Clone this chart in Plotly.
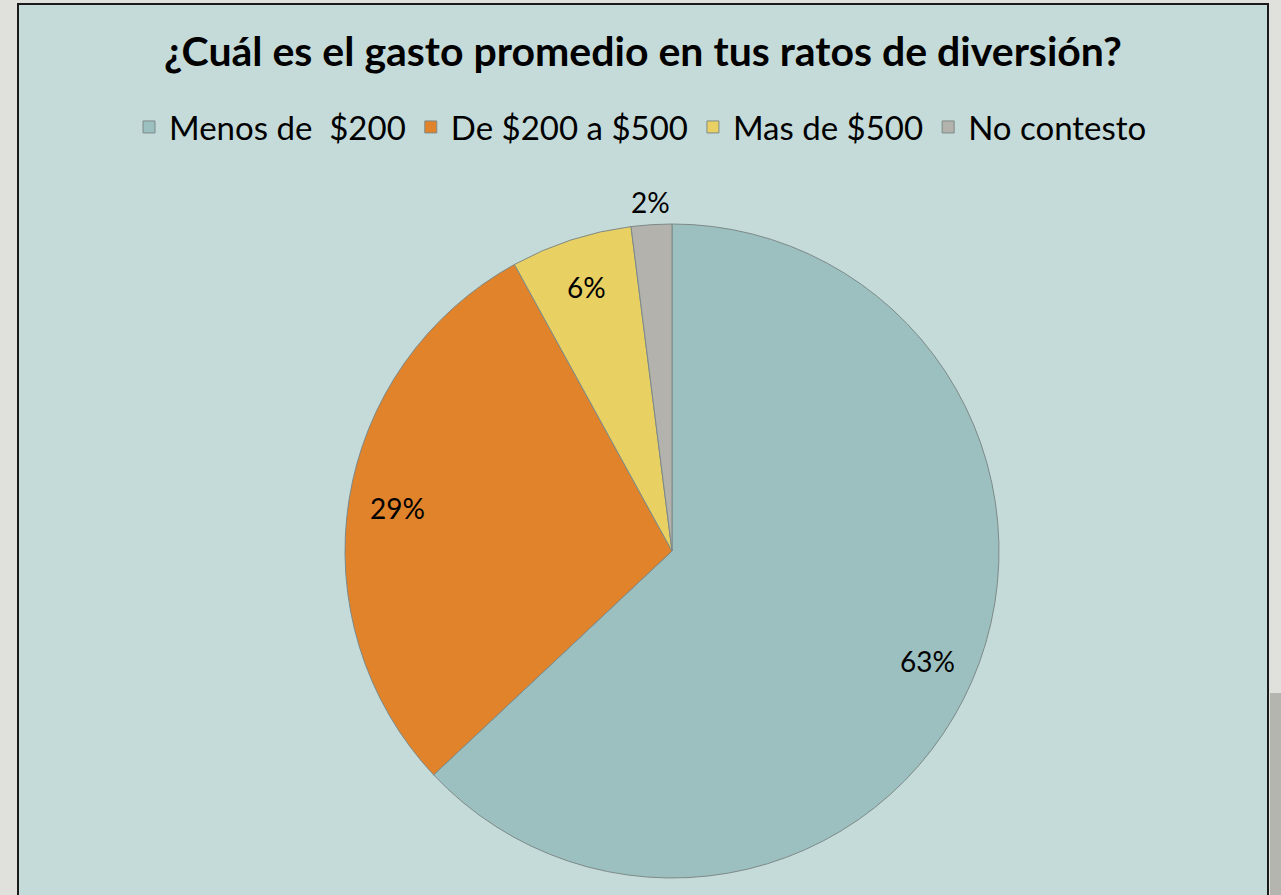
import math
import plotly.graph_objects as go

# ---- data ----
categories = ["Menos de  $200", "De $200 a $500", "Mas de $500", "No contesto"]
values = [63, 29, 6, 2]
label_texts = ["63%", "29%", "6%", "2%"]
label_outside = [False, False, False, True]

# ---- styling ----
colors = ["#9cc0bf", "#e0832b", "#e8d063", "#b3b2ac"]
W, H = 1281, 895
CX, CY, R = 672, 551, 327          # pie centre / radius in pixels
IN_FRAC, OUT_FRAC = 0.85, 1.07
FONT = "Lato, 'Open Sans', sans-serif"

fig = go.Figure()
fig.add_trace(go.Pie(
    labels=categories,
    values=values,
    sort=False,
    direction="clockwise",
    rotation=0,
    marker=dict(colors=colors, line=dict(color="#7d8a89", width=1)),
    textinfo="none",
    hoverinfo="label+percent",
    domain=dict(x=[(CX - R) / W, (CX + R) / W], y=[1 - (CY + R) / H, 1 - (CY - R) / H]),
))

# data labels positioned along each slice's mid-angle
total = sum(values)
cum = 0
annotations = []
for v, t, out in zip(values, label_texts, label_outside):
    mid = (cum + v / 2) / total * 2 * math.pi
    cum += v
    rr = R * (OUT_FRAC if out else IN_FRAC)
    px = CX + rr * math.sin(mid)
    py = CY - rr * math.cos(mid)
    annotations.append(dict(x=px / W, y=1 - py / H, xref="paper", yref="paper",
                            text=t, showarrow=False,
                            font=dict(family=FONT, size=28, color="#000000"),
                            xanchor="center", yanchor="middle"))

annotations.append(dict(x=643 / W, y=1 - 51 / H, xref="paper", yref="paper",
                        text="<b>¿Cuál es el gasto promedio en tus ratos de diversión?</b>",
                        showarrow=False, xanchor="center", yanchor="middle",
                        font=dict(family=FONT, size=41, color="#000000")))

shapes = [
    # chart frame
    dict(type="rect", xref="paper", yref="paper",
         x0=18 / W, x1=1268 / W, y0=-0.02, y1=1 - 4 / H,
         fillcolor="#c5dbd9", line=dict(color="#1a1a1a", width=2), layer="below"),
    # grey side band at bottom right
    dict(type="rect", xref="paper", yref="paper",
         x0=1270 / W, x1=1.0, y0=0, y1=1 - 693 / H,
         fillcolor="#b5b5b0", line=dict(width=0), layer="below"),
]

fig.update_layout(
    width=W, height=H,
    margin=dict(l=0, r=0, t=0, b=0),
    paper_bgcolor="#e0e0dc",
    plot_bgcolor="#c5dbd9",
    showlegend=True,
    legend=dict(orientation="h", x=0.5, xanchor="center", y=1 - 127 / H, yanchor="middle",
                font=dict(family=FONT, size=33, color="#000000"),
                bgcolor="rgba(0,0,0,0)", itemwidth=30, traceorder="normal"),
    annotations=annotations,
    shapes=shapes,
)

fig.write_html("out.html", config={"displayModeBar": False},
               post_script="document.body.style.margin='0px';")
